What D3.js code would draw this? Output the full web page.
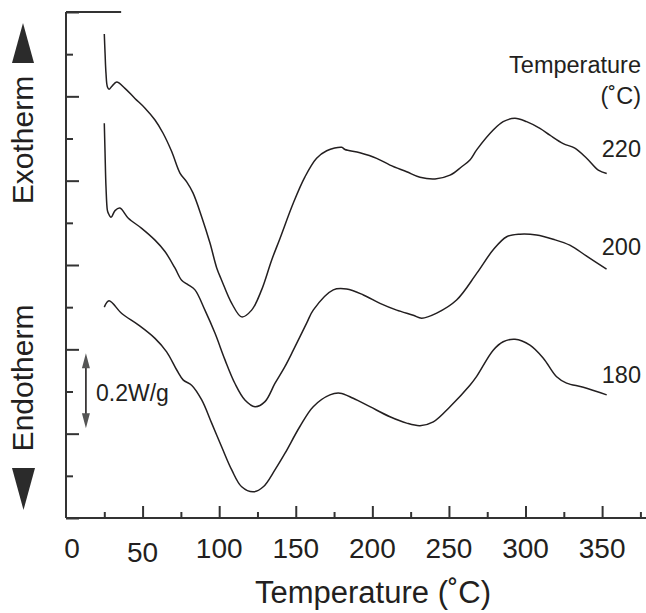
<!DOCTYPE html>
<html>
<head>
<meta charset="utf-8">
<script src="https://cdn.jsdelivr.net/npm/d3@7"></script>
<style>
  body { margin: 0; background: #fff; }
  svg { font-family: "Liberation Sans", Arial, sans-serif; }
</style>
</head>
<body>
<div id="chart"></div>
<script>
// DSC traces, heat flow in arbitrary offset units (one minor tick = 1)
const t220 = [25.0,25.5,26.1,27.0,28.1,30.0,33.1,38.5,45.0,51.6,58.1,63.3,69.0,74.4,78.8,82.9,88.6,94.0,98.4,101.6,108.2,114.7,121.2,127.7,134.3,139.7,148.4,156.0,163.6,170.2,180.0,182.1,191.9,202.8,211.5,222.4,231.1,240.9,250.7,258.3,263.7,268.1,278.9,285.4,293.1,300.7,309.4,315.9,324.6,332.2,339.9,347.5,353.0];
const q220 = [11.48,11.02,10.55,10.23,10.17,10.24,10.34,10.19,9.95,9.72,9.44,9.13,8.69,8.18,7.97,7.71,7.14,6.52,5.93,5.64,5.09,4.77,4.93,5.41,6.12,6.63,7.47,8.09,8.53,8.71,8.79,8.74,8.66,8.53,8.37,8.21,8.08,8.04,8.13,8.33,8.49,8.73,9.20,9.40,9.48,9.40,9.24,9.08,8.88,8.77,8.53,8.25,8.17];

const t200 = [25.0,25.5,26.1,27.0,27.6,29.4,32.0,35.2,40.7,49.4,58.1,64.6,71.1,75.5,79.8,84.2,90.7,97.3,103.8,110.3,116.8,123.4,129.9,136.4,142.9,148.4,157.1,161.4,174.5,183.2,194.1,205.0,215.9,226.7,232.2,242.0,255.0,268.1,278.9,287.7,296.3,307.2,318.1,328.9,339.9,352.9];
const q200 = [9.36,8.65,7.86,7.30,7.23,7.13,7.29,7.35,7.11,6.87,6.59,6.32,5.93,5.64,5.53,5.41,4.93,4.38,3.75,3.19,2.80,2.64,2.76,3.19,3.59,3.98,4.62,4.93,5.41,5.43,5.29,5.09,4.93,4.81,4.74,4.86,5.17,5.80,6.36,6.67,6.73,6.71,6.61,6.47,6.21,5.90];

const t180 = [25.0,28.1,36.4,47.2,58.1,65.7,72.3,76.6,82.0,88.6,95.1,101.6,108.2,114.7,122.3,128.8,136.4,142.9,152.7,161.4,172.3,178.9,187.5,198.4,211.5,222.4,231.1,239.8,250.7,263.7,268.1,278.9,285.4,293.1,302.9,311.6,320.3,326.8,337.7,353.0];
const q180 = [5.00,5.15,4.85,4.58,4.26,3.94,3.51,3.27,3.15,2.80,2.25,1.69,1.14,0.74,0.62,0.74,1.14,1.53,2.17,2.64,2.92,2.96,2.84,2.64,2.40,2.25,2.19,2.28,2.64,3.15,3.36,3.98,4.18,4.24,4.10,3.79,3.35,3.20,3.10,2.92];

const seriesNames = ["220", "200", "180"];
const xMajor = [0, 50, 100, 150, 200, 250, 300, 350];
const xMinor = [25, 75, 125, 175, 225, 275, 325, 375];
const yMajor = [0, 2, 4, 6, 8, 10, 12];
const yMinor = [1, 3, 5, 7, 9, 11];
const scaleBar = { label: "0.2W/g", low: 2.13, high: 3.91 };

const width = 646, height = 613;
const x = d3.scaleLinear().domain([0, 378]).range([66, 645]);
const y = d3.scaleLinear().domain([0, 12]).range([518, 12]);
const ink = "#231f20";

const svg = d3.select("#chart").append("svg")
  .attr("width", width)
  .attr("height", height);

// curves
const series = [
  { name: seriesNames[0], t: t220, q: q220 },
  { name: seriesNames[1], t: t200, q: q200 },
  { name: seriesNames[2], t: t180, q: q180 }
];
const line = d3.line()
  .x(d => x(d[0]))
  .y(d => y(d[1]))
  .curve(d3.curveCatmullRom.alpha(0.5));

svg.append("g").selectAll("path")
  .data(series)
  .enter()
  .append("path")
  .attr("d", s => line(s.t.map((t, i) => [t, s.q[i]])))
  .attr("fill", "none")
  .attr("stroke", ink)
  .attr("stroke-width", 1.5);

// axes lines
svg.append("line")
  .attr("x1", x(0)).attr("x2", 646)
  .attr("y1", y(0)).attr("y2", y(0))
  .attr("stroke", "#333").attr("stroke-width", 2);
svg.append("line")
  .attr("x1", x(0)).attr("x2", x(0))
  .attr("y1", y(12)).attr("y2", y(0))
  .attr("stroke", "#333").attr("stroke-width", 2);
svg.append("line")
  .attr("x1", x(0)).attr("x2", x(36))
  .attr("y1", y(12)).attr("y2", y(12))
  .attr("stroke", "#333").attr("stroke-width", 2);

function ticks(axis, values, size, transform) {
  const g = svg.append("g")
    .attr("transform", transform)
    .call(axis.tickValues(values).tickSize(size).tickFormat(""));
  g.select(".domain").remove();
  g.selectAll(".tick line").attr("stroke", "#333").attr("stroke-width", 2);
}
ticks(d3.axisTop(x), xMajor.slice(1), 12, `translate(0,${y(0)})`);
ticks(d3.axisTop(x), xMinor, 6, `translate(0,${y(0)})`);
ticks(d3.axisRight(y), yMajor, 13, `translate(${x(0)},0)`);
ticks(d3.axisRight(y), yMinor, 7, `translate(${x(0)},0)`);

// x tick labels
svg.append("g").selectAll("text")
  .data(xMajor)
  .enter()
  .append("text")
  .attr("x", d => x(d) + (d === 0 ? 6 : 0))
  .attr("y", d => d === 50 ? 562 : 558)
  .attr("text-anchor", "middle")
  .attr("font-size", 28)
  .attr("fill", ink)
  .text(d => d);

svg.append("text")
  .attr("x", 373).attr("y", 603)
  .attr("text-anchor", "middle")
  .attr("font-size", 31)
  .attr("fill", ink)
  .text("Temperature (˚C)");

// Exotherm / Endotherm
svg.append("text")
  .attr("transform", "translate(33,140) rotate(-90)")
  .attr("text-anchor", "middle")
  .attr("font-size", 30)
  .attr("fill", ink)
  .text("Exotherm");
svg.append("text")
  .attr("transform", "translate(33,378) rotate(-90)")
  .attr("text-anchor", "middle")
  .attr("font-size", 30)
  .attr("fill", ink)
  .text("Endotherm");
svg.append("path")
  .attr("d", "M12,63 L34,63 L23,23 Z")
  .attr("fill", "#2b2b2b");
svg.append("path")
  .attr("d", "M12,468 L35,468 L23.5,510 Z")
  .attr("fill", "#2b2b2b");

// scale bar
const sbx = x(13);
svg.append("line")
  .attr("x1", sbx).attr("x2", sbx)
  .attr("y1", y(scaleBar.high) + 8).attr("y2", y(scaleBar.low) - 8)
  .attr("stroke", ink).attr("stroke-width", 1.6);
svg.append("path")
  .attr("d", `M${sbx},${y(scaleBar.high)} l-4,15 l8,0 Z M${sbx},${y(scaleBar.low)} l-4,-15 l8,0 Z`)
  .attr("fill", "#555");
svg.append("text")
  .attr("x", 96).attr("y", 401)
  .attr("font-size", 23)
  .attr("fill", ink)
  .text(scaleBar.label);

// right labels
svg.append("text")
  .attr("x", 641).attr("y", 73)
  .attr("text-anchor", "end")
  .attr("font-size", 23.5)
  .attr("fill", ink)
  .text("Temperature");
svg.append("text")
  .attr("x", 641).attr("y", 104)
  .attr("text-anchor", "end")
  .attr("font-size", 23.5)
  .attr("fill", ink)
  .text("(˚C)");
const labelY = [157, 255, 383];
svg.append("g").selectAll("text")
  .data(seriesNames)
  .enter()
  .append("text")
  .attr("x", 641)
  .attr("y", (d, i) => labelY[i])
  .attr("text-anchor", "end")
  .attr("font-size", 23.5)
  .attr("fill", ink)
  .text(d => d);
</script>
</body>
</html>
